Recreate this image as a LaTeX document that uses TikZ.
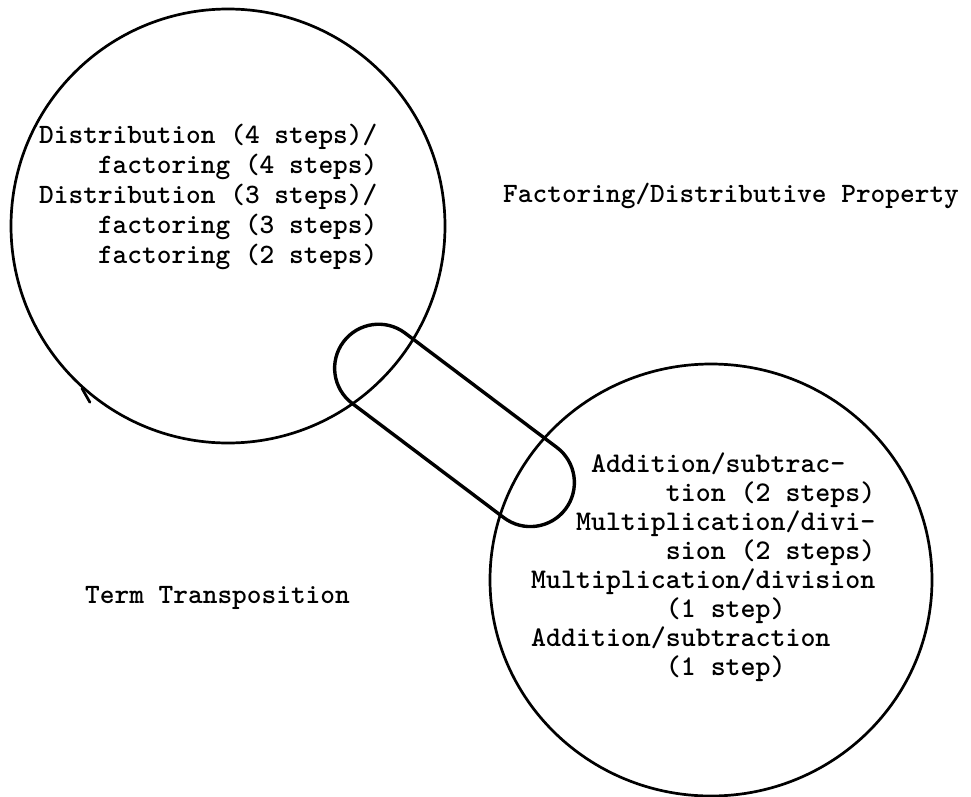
\documentclass[tikz,border=0pt]{standalone}
\usepackage{fontspec}
\usetikzlibrary{shapes.misc,shapes.geometric}
\begin{document}
\begin{tikzpicture}[x=1pt,y=-1pt,
  ring/.style={draw,line width=2.7pt,inner sep=0pt},
  pill/.style={draw,rounded rectangle,line width=3.4pt,inner sep=0pt,
    minimum width=278pt,minimum height=88pt,rotate=-37},
  tw/.style={inner sep=0pt,anchor=base west,font=\ttfamily\bfseries\fontsize{28}{30}\selectfont},
  twr/.style={inner sep=0pt,anchor=base west,font=\ttfamily\bfseries\fontsize{28.5}{29}\selectfont},
]
\useasboundingbox (0,0) rectangle (971,797);
\node[ring,circle,minimum size=434pt] (lc) at (228,226) {};
\draw[line width=2.7pt,line cap=round] (lc.228) -- ++(8,14);
\node[ring,ellipse,minimum width=442pt,minimum height=432pt] (rc) at (711,580) {};
\node[pill] (bridge) at (454.5,425.4) {};

\node[tw] (lt) at (39,143) {\vtop{%
  \hbox{Distribution (4 steps)/}%
  \hbox{\hphantom{0000}factoring (4 steps)}%
  \hbox{Distribution (3 steps)/}%
  \hbox{\hphantom{0000}factoring (3 steps)}%
  \hbox{\hphantom{0000}factoring (2 steps)}}};

\node[twr] (rt) at (531,472) {\vtop{%
  \hbox{\hphantom{0000}Addition/subtrac-}%
  \hbox{\hphantom{000000000}tion (2 steps)}%
  \hbox{\hphantom{000}Multiplication/divi-}%
  \hbox{\hphantom{000000000}sion (2 steps)}%
  \hbox{Multiplication/division}%
  \hbox{\hphantom{000000000}(1 step)}%
  \hbox{Addition/subtraction}%
  \hbox{\hphantom{000000000}(1 step)}}};

\node[tw] (fd) at (503,202) {Factoring/Distributive Property};
\node[tw] (tt) at (85,603) {Term Transposition};
\end{tikzpicture}
\end{document}
